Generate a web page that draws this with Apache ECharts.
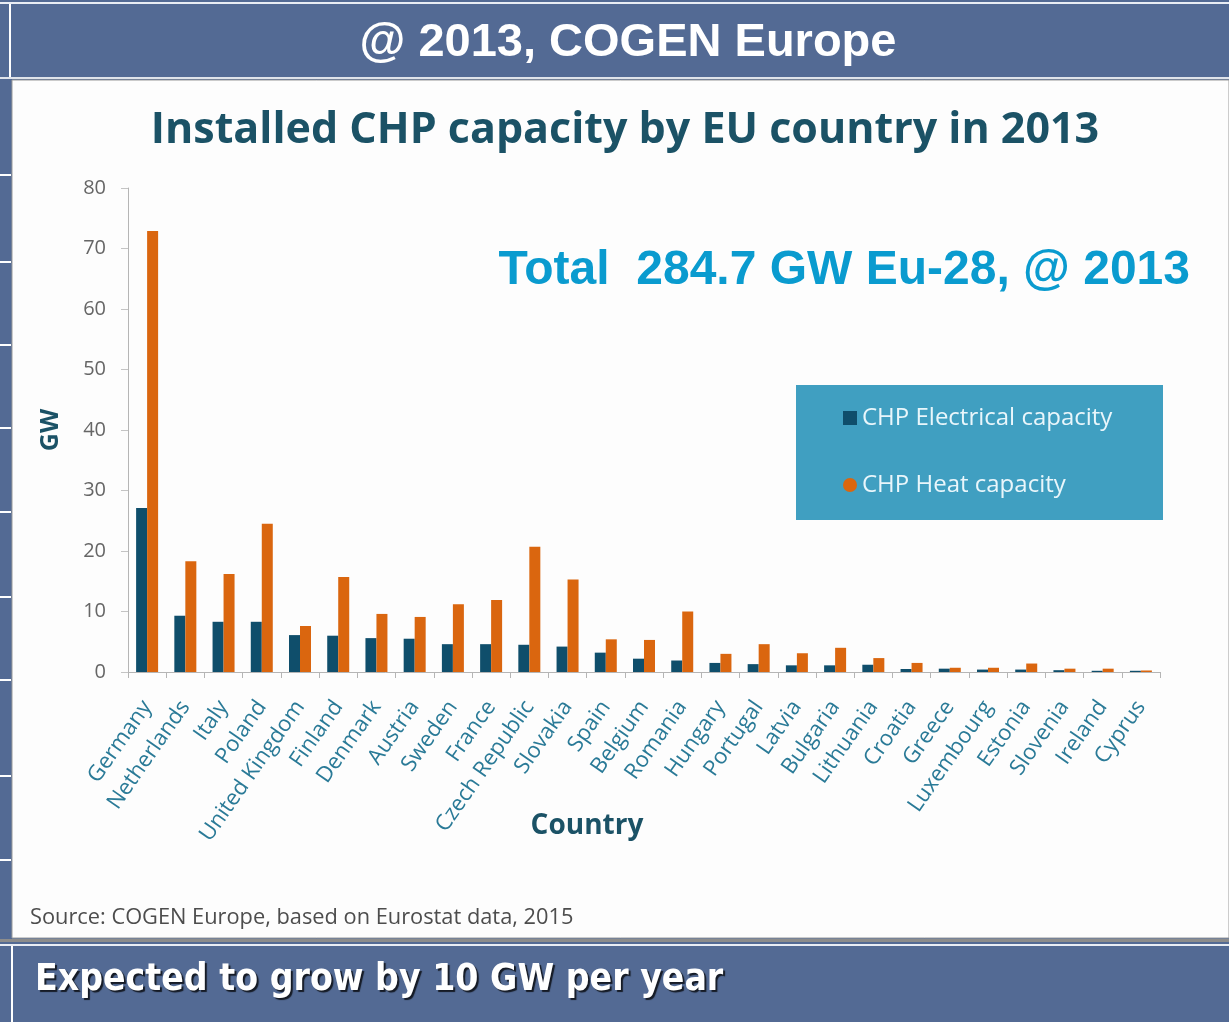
<!DOCTYPE html>
<html>
<head>
<meta charset="utf-8">
<script src="https://cdn.jsdelivr.net/npm/echarts@6/dist/echarts.min.js"></script>
<style>
  html, body { margin: 0; padding: 0; background: #536a94; }
  #chart { width: 1229px; height: 1022px; }
</style>
</head>
<body>
<div id="chart"></div>
<script>
// Installed CHP capacity per EU member state, 2013 (GW)
const countries = ['Germany', 'Netherlands', 'Italy', 'Poland', 'United Kingdom', 'Finland',
  'Denmark', 'Austria', 'Sweden', 'France', 'Czech Republic', 'Slovakia', 'Spain', 'Belgium',
  'Romania', 'Hungary', 'Portugal', 'Latvia', 'Bulgaria', 'Lithuania', 'Croatia', 'Greece',
  'Luxembourg', 'Estonia', 'Slovenia', 'Ireland', 'Cyprus'];
const electricalCapacity = [27.1, 9.3, 8.3, 8.3, 6.1, 6.0, 5.6, 5.5, 4.6, 4.6, 4.5, 4.2, 3.2, 2.2,
  1.9, 1.5, 1.3, 1.1, 1.1, 1.2, 0.5, 0.55, 0.4, 0.4, 0.3, 0.2, 0.2];
const heatCapacity = [72.9, 18.3, 16.2, 24.5, 7.6, 15.7, 9.6, 9.1, 11.2, 11.9, 20.7, 15.3, 5.4, 5.3,
  10.0, 3.0, 4.6, 3.1, 4.0, 2.3, 1.5, 0.7, 0.7, 1.4, 0.55, 0.55, 0.25];
const yTicks = { min: 0, max: 80, interval: 10 };

const seriesNames = ['CHP Electrical capacity', 'CHP Heat capacity'];
const headerTitle = '@ 2013, COGEN Europe';
const chartTitle = 'Installed CHP capacity by EU country in 2013';
const totalNote = 'Total  284.7 GW Eu-28, @ 2013';
const sourceNote = 'Source: COGEN Europe, based on Eurostat data, 2015';
const footerNote = 'Expected to grow by 10 GW per year';

const FRAME = '#536a94';
const ELEC = '#0f4e6b';
const HEAT = '#da660f';
const TEAL_DARK = '#1b5266';
const TEAL_LABEL = '#2a7a97';

const chart = echarts.init(document.getElementById('chart'), null, { renderer: 'canvas' });

// slide frame: side strip separators
const stripMarks = [175, 262, 345, 428, 512, 597, 680, 776, 860].map(y => ({
  type: 'rect', shape: { x: 0, y: y - 1, width: 11, height: 2 }, style: { fill: '#ffffff' }, z: 2
}));

chart.setOption({
  backgroundColor: FRAME,
  animation: false,
  graphic: [
    // top white rule
    { type: 'rect', shape: { x: 0, y: 2, width: 1229, height: 2 }, style: { fill: '#e9edf4' } },
    { type: 'rect', shape: { x: 9, y: 4, width: 2, height: 74 }, style: { fill: '#ffffff' } },
    { type: 'rect', shape: { x: 0, y: 77, width: 1229, height: 2 }, style: { fill: '#dfe3ea' } },
    // main white panel
    { type: 'rect', shape: { x: 12, y: 80, width: 1217, height: 858 }, style: { fill: '#fdfdfd', stroke: '#9a9a9a', lineWidth: 1 } },
    { type: 'rect', shape: { x: 0, y: 939, width: 1229, height: 3 }, style: { fill: '#8c8c8c' } },
    { type: 'rect', shape: { x: 0, y: 944, width: 1229, height: 2 }, style: { fill: '#e9edf4' } },
    { type: 'rect', shape: { x: 11, y: 946, width: 2, height: 76 }, style: { fill: '#ffffff' } },
    ...stripMarks,
    {
      type: 'text', x: 628, y: 43,
      style: { text: headerTitle, fill: '#ffffff', font: 'bold 47px "Liberation Sans", Arial, sans-serif',
        align: 'center', verticalAlign: 'middle' }
    },
    {
      type: 'text', x: 625, y: 131,
      style: { text: chartTitle, fill: TEAL_DARK, font: 'bold 43px "Open Sans", sans-serif',
        align: 'center', verticalAlign: 'middle' }
    },
    {
      type: 'text', x: 1190, y: 271,
      style: { text: totalNote, fill: '#0a9bcf', font: 'bold 48px "Liberation Sans", Arial, sans-serif',
        align: 'right', verticalAlign: 'middle' }
    },
    // legend panel
    { type: 'rect', shape: { x: 796, y: 385, width: 367, height: 135 }, style: { fill: '#409fc1' }, z: 1 },
    {
      type: 'text', x: 30, y: 918,
      style: { text: sourceNote, fill: '#4d4d4d', font: '21.8px "Open Sans", sans-serif',
        align: 'left', verticalAlign: 'middle' }
    },
    {
      type: 'text', x: 35, y: 980,
      style: { text: footerNote, fill: '#ffffff', font: 'bold 37px "DejaVu Sans Condensed", "DejaVu Sans", sans-serif',
        align: 'left', verticalAlign: 'middle',
        textShadowColor: 'rgba(0,0,0,0.75)', textShadowOffsetX: 2, textShadowOffsetY: 2, textShadowBlur: 1 }
    }
  ],
  legend: {
    orient: 'vertical',
    left: 843, top: 404,
    padding: 0,
    itemWidth: 14, itemHeight: 14, itemGap: 39,
    data: [
      { name: seriesNames[0], icon: 'rect' },
      { name: seriesNames[1], icon: 'circle' }
    ],
    textStyle: { color: '#e9f6fb', fontSize: 24, lineHeight: 28, fontFamily: '"Open Sans", sans-serif' },
    z: 5
  },
  grid: { left: 128, right: 69, top: 188, bottom: 350, containLabel: false },
  xAxis: {
    type: 'category',
    data: countries,
    name: 'Country',
    nameLocation: 'middle',
    nameGap: 140,
    nameMoveOverlap: false,
    nameTextStyle: { color: TEAL_DARK, fontSize: 28, fontWeight: 'bold', fontFamily: '"Open Sans", sans-serif', padding: [0, 114, 0, 0] },
    axisLine: { lineStyle: { color: '#b5b5b5', width: 1 } },
    axisTick: { show: true, length: 6, lineStyle: { color: '#b5b5b5' } },
    axisLabel: { interval: 0, rotate: 55, margin: 31, padding: [24, 0, 0, 0], color: TEAL_LABEL, fontSize: 22, fontFamily: '"Open Sans", sans-serif' }
  },
  yAxis: {
    type: 'value',
    min: yTicks.min, max: yTicks.max, interval: yTicks.interval,
    name: 'GW',
    nameLocation: 'middle',
    nameGap: 65,
    nameRotate: 90,
    nameTextStyle: { color: TEAL_DARK, fontSize: 25, fontWeight: 'bold', fontFamily: '"Open Sans", sans-serif' },
    axisLine: { show: true, lineStyle: { color: '#b5b5b5', width: 1 } },
    axisTick: { show: true, length: 7, lineStyle: { color: '#c4c4c4' } },
    splitLine: { show: false },
    axisLabel: { margin: 22, color: '#666666', fontSize: 20, fontFamily: '"Open Sans", sans-serif' }
  },
  series: [
    { name: seriesNames[0], type: 'bar', data: electricalCapacity, barWidth: 11, barGap: '0%',
      itemStyle: { color: ELEC } },
    { name: seriesNames[1], type: 'bar', data: heatCapacity, barWidth: 11, barGap: '0%',
      itemStyle: { color: HEAT } }
  ]
});
</script>
</body>
</html>
